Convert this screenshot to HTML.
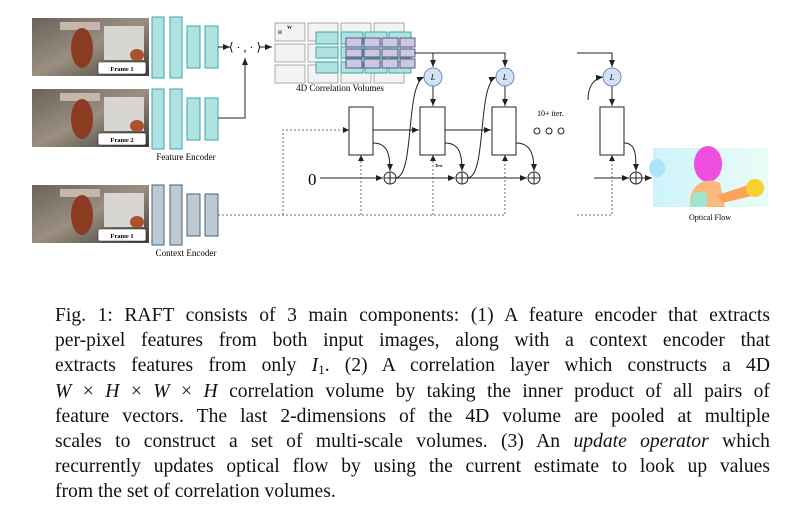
<!DOCTYPE html>
<html><head><meta charset="utf-8"><style>
body{margin:0;background:#fff;width:796px;height:529px;overflow:hidden;position:relative;font-family:"Liberation Serif",serif}
.cap{position:absolute;left:55px;top:303px;width:715px;font-size:19.6px;line-height:25.2px;color:#111}
.cap div{text-align:justify;text-align-last:justify;white-space:nowrap;height:25.2px}
.cap div.l{text-align-last:left}
sub{font-size:13px;line-height:0;position:relative;top:3px;vertical-align:baseline}
</style></head><body>
<svg width="796" height="300" style="position:absolute;left:0;top:0" font-family="Liberation Serif, serif">
<defs>
<marker id="a" markerWidth="8" markerHeight="8" refX="7" refY="4" orient="auto" markerUnits="userSpaceOnUse"><path d="M0,1 L7,4 L0,7 Z" fill="#222"/></marker>
<linearGradient id="img" x1="0" y1="0" x2="1" y2="1"><stop offset="0" stop-color="#6a625a"/><stop offset=".5" stop-color="#9a8f80"/><stop offset="1" stop-color="#3e3a36"/></linearGradient>
<linearGradient id="fl" x1="0" y1="0" x2="1" y2="0"><stop offset="0" stop-color="#cdf3fb"/><stop offset="1" stop-color="#eafcf6"/></linearGradient>
</defs>
<g id="fr">
<rect x="32" y="18" width="117" height="58" fill="url(#img)"/>
<rect x="60" y="22" width="40" height="8" fill="#c8b6aa"/>
<rect x="104" y="26" width="40" height="34" fill="#d8d6d0"/>
<ellipse cx="82" cy="48" rx="11" ry="20" fill="#8a3b22"/>
<ellipse cx="137" cy="55" rx="7" ry="6" fill="#a8512c"/>
<rect x="98" y="62" width="48" height="12" rx="2" fill="#fff" stroke="#222" stroke-width="0.6"/>
<text x="122" y="71" font-size="6.5" font-weight="bold" text-anchor="middle">Frame 1</text>
</g>
<use href="#fr" y="71"/><use href="#fr" y="167"/>
<rect x="98" y="133" width="48" height="12" rx="2" fill="#fff" stroke="#222" stroke-width="0.6"/>
<text x="122" y="142" font-size="6.5" font-weight="bold" text-anchor="middle">Frame 2</text>
<g fill="#b0e2e2" stroke="#3aa8a8" stroke-width="1">
<rect x="152" y="17" width="12" height="61"/><rect x="170" y="17" width="12" height="61"/>
<rect x="187" y="26" width="13" height="42"/><rect x="205" y="26" width="13" height="42"/>
<rect x="152" y="89" width="12" height="60"/><rect x="170" y="89" width="12" height="60"/>
<rect x="187" y="98" width="13" height="42"/><rect x="205" y="98" width="13" height="42"/>
</g>
<g fill="#bccad6" stroke="#4c6072" stroke-width="1">
<rect x="152" y="185" width="12" height="60"/><rect x="170" y="185" width="12" height="60"/>
<rect x="187" y="194" width="13" height="42"/><rect x="205" y="194" width="13" height="42"/>
</g>
<text x="186" y="160" font-size="9" text-anchor="middle">Feature Encoder</text>
<text x="186" y="256" font-size="9" text-anchor="middle">Context Encoder</text>
<g stroke="#222" stroke-width="1" fill="none">
<line x1="218" y1="47" x2="230" y2="47" marker-end="url(#a)"/>
<line x1="259" y1="47" x2="272" y2="47" marker-end="url(#a)"/>
<polyline points="218,118 245,118 245,58" marker-end="url(#a)"/>
</g>
<text x="245" y="51" font-size="12" text-anchor="middle">⟨ · , · ⟩</text>
<g fill="#f3f3f3" stroke="#a8a8a8" stroke-width="1">
<rect x="275" y="23" width="30" height="18"/><rect x="308" y="23" width="30" height="18"/><rect x="341" y="23" width="30" height="18"/><rect x="374" y="23" width="30" height="18"/>
<rect x="275" y="44" width="30" height="18"/><rect x="308" y="44" width="30" height="18"/><rect x="341" y="44" width="30" height="18"/><rect x="374" y="44" width="30" height="18"/>
<rect x="275" y="65" width="30" height="18"/><rect x="308" y="65" width="30" height="18"/><rect x="341" y="65" width="30" height="18"/><rect x="374" y="65" width="30" height="18"/>
</g>
<g fill="#b0e2e2" stroke="#3aa8a8" stroke-width="1">
<rect x="316" y="32" width="22" height="12"/><rect x="341" y="32" width="22" height="12"/><rect x="365" y="32" width="22" height="12"/><rect x="389" y="32" width="22" height="12"/>
<rect x="316" y="47" width="22" height="11"/><rect x="341" y="47" width="22" height="11"/><rect x="365" y="47" width="22" height="11"/><rect x="389" y="47" width="22" height="11"/>
<rect x="316" y="62" width="22" height="11"/><rect x="341" y="62" width="22" height="11"/><rect x="365" y="62" width="22" height="11"/><rect x="389" y="62" width="22" height="11"/>
</g>
<g fill="#cbc8e0" stroke="#5c5888" stroke-width="1">
<rect x="346" y="38" width="16" height="9"/><rect x="364" y="38" width="16" height="9"/><rect x="382" y="38" width="16" height="9"/><rect x="400" y="38" width="15" height="9"/>
<rect x="346" y="49" width="16" height="8"/><rect x="364" y="49" width="16" height="8"/><rect x="382" y="49" width="16" height="8"/><rect x="400" y="49" width="15" height="8"/>
<rect x="346" y="59" width="16" height="9"/><rect x="364" y="59" width="16" height="9"/><rect x="382" y="59" width="16" height="9"/><rect x="400" y="59" width="15" height="9"/>
</g>
<text x="287" y="29" font-size="5" font-weight="bold" fill="#223">W</text>
<text x="278" y="34" font-size="5" font-weight="bold" fill="#223">H</text>
<text x="340" y="91" font-size="9" text-anchor="middle">4D Correlation Volumes</text>
<g stroke="#222" stroke-width="1" fill="none">
<polyline points="415,53 505,53 505,67" marker-end="url(#a)"/>
<line x1="433" y1="53" x2="433" y2="67" marker-end="url(#a)"/>
<polyline points="577,53 612,53 612,67" marker-end="url(#a)"/>
<line x1="433" y1="86" x2="433" y2="106" marker-end="url(#a)"/>
<line x1="505" y1="86" x2="505" y2="106" marker-end="url(#a)"/>
<line x1="612" y1="86" x2="612" y2="106" marker-end="url(#a)"/>
<line x1="373" y1="130" x2="419" y2="130" marker-end="url(#a)"/>
<line x1="445" y1="130" x2="491" y2="130" marker-end="url(#a)"/>
<line x1="320" y1="178" x2="383" y2="178" marker-end="url(#a)"/>
<line x1="396" y1="178" x2="455" y2="178" marker-end="url(#a)"/>
<line x1="468" y1="178" x2="527" y2="178" marker-end="url(#a)"/>
<line x1="594" y1="178" x2="629" y2="178" marker-end="url(#a)"/>
<line x1="642" y1="178" x2="652" y2="178" marker-end="url(#a)"/>
<path d="M373,143 C388,143 390,155 390,171" marker-end="url(#a)"/>
<path d="M445,143 C460,143 462,155 462,171" marker-end="url(#a)"/>
<path d="M516,143 C531,143 534,155 534,171" marker-end="url(#a)"/>
<path d="M624,143 C636,143 636,155 636,171" marker-end="url(#a)"/>
<path d="M396,178 C415,175 405,85 424,77" marker-end="url(#a)"/>
<path d="M468,178 C487,175 477,85 496,77" marker-end="url(#a)"/>
<path d="M588,100 C588,85 595,78 603,77" marker-end="url(#a)"/>
</g>
<g fill="#d4e2f6" stroke="#6a8cc0" stroke-width="1">
<circle cx="433" cy="77" r="9"/><circle cx="505" cy="77" r="9"/><circle cx="612" cy="77" r="9"/>
</g>
<g font-size="8" font-style="italic" text-anchor="middle"><text x="433" y="80">L</text><text x="505" y="80">L</text><text x="612" y="80">L</text></g>
<g fill="#fff" stroke="#222" stroke-width="1">
<rect x="349" y="107" width="24" height="48"/><rect x="420" y="107" width="25" height="48"/><rect x="492" y="107" width="24" height="48"/><rect x="600" y="107" width="24" height="48"/>
<circle cx="390" cy="178" r="6"/><circle cx="462" cy="178" r="6"/><circle cx="534" cy="178" r="6"/><circle cx="636" cy="178" r="6"/>
<circle cx="537" cy="131" r="3"/><circle cx="549" cy="131" r="3"/><circle cx="561" cy="131" r="3"/>
</g>
<g stroke="#222" stroke-width="1">
<line x1="384" y1="178" x2="396" y2="178"/><line x1="390" y1="172" x2="390" y2="184"/>
<line x1="456" y1="178" x2="468" y2="178"/><line x1="462" y1="172" x2="462" y2="184"/>
<line x1="528" y1="178" x2="540" y2="178"/><line x1="534" y1="172" x2="534" y2="184"/>
<line x1="630" y1="178" x2="642" y2="178"/><line x1="636" y1="172" x2="636" y2="184"/>
</g>
<g stroke="#444" stroke-width="0.8" stroke-dasharray="2,2" fill="none">
<polyline points="218,215 505,215 505,156"/>
<polyline points="283,215 283,130 346,130"/>
<line x1="361" y1="215" x2="361" y2="157"/>
<line x1="433" y1="215" x2="433" y2="157"/>
<polyline points="577,215 612,215 612,157"/>
</g>
<g fill="#222"><path d="M343,127 L349,130 L343,133Z"/><path d="M358,161 L361,155 L364,161Z"/><path d="M430,161 L433,155 L436,161Z"/><path d="M502,161 L505,155 L508,161Z"/><path d="M609,161 L612,155 L615,161Z"/></g>
<text x="308" y="185" font-size="17">0</text>
<text x="537" y="116" font-size="8">10+ iter.</text>
<text x="435" y="167" font-size="4" font-weight="bold">Text</text>
<rect x="653" y="148" width="115" height="59" fill="url(#fl)"/>
<ellipse cx="657" cy="168" rx="8" ry="9" fill="#a8e6f8"/>
<ellipse cx="708" cy="164" rx="14" ry="18" fill="#f04ee0"/>
<path d="M690,207 C688,185 705,176 720,183 L725,207Z" fill="#f8b880"/>
<path d="M690,207 C690,192 700,188 708,195 L706,207Z" fill="#9ee6d0"/>
<path d="M718,195 L748,185 L752,196 L722,203Z" fill="#fca35a"/>
<ellipse cx="755" cy="188" rx="9" ry="9" fill="#f8d030"/>
<text x="710" y="220" font-size="8" text-anchor="middle">Optical Flow</text>
</svg>
<div class="cap">
<div>Fig. 1: RAFT consists of 3 main components: (1) A feature encoder that extracts</div>
<div>per-pixel features from both input images, along with a context encoder that</div>
<div>extracts features from only <i>I</i><sub>1</sub>. (2) A correlation layer which constructs a 4D</div>
<div><i>W</i> × <i>H</i> × <i>W</i> × <i>H</i> correlation volume by taking the inner product of all pairs of</div>
<div>feature vectors. The last 2-dimensions of the 4D volume are pooled at multiple</div>
<div>scales to construct a set of multi-scale volumes. (3) An <i>update operator</i> which</div>
<div>recurrently updates optical flow by using the current estimate to look up values</div>
<div class="l">from the set of correlation volumes.</div>
</div>
</body></html>
